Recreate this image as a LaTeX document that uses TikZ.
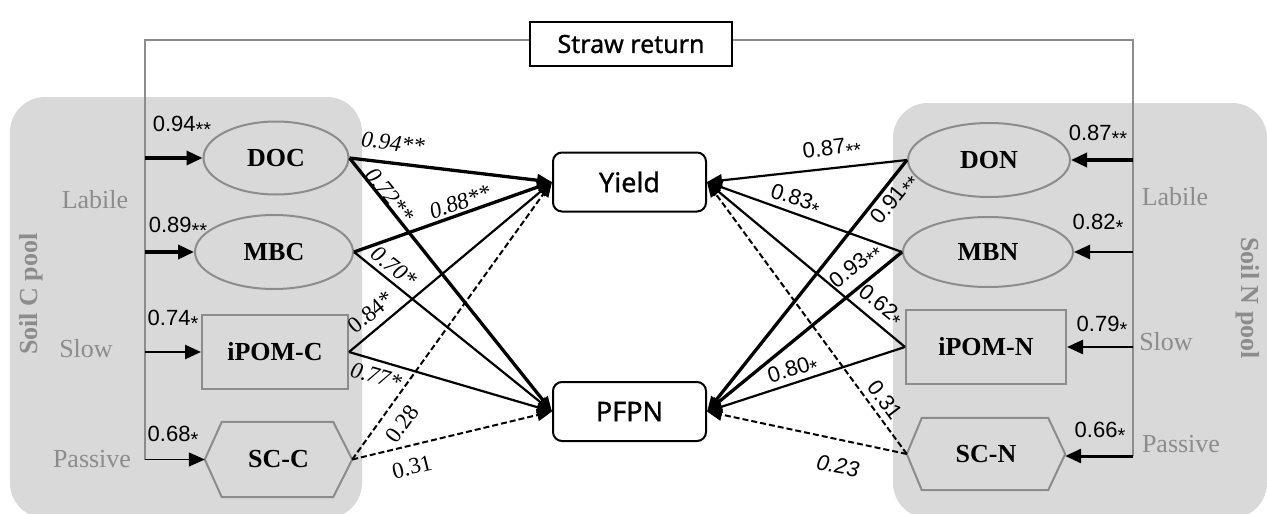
\documentclass[tikz,border=0pt]{standalone}
\usepackage{fontspec}
\setmainfont{Liberation Serif}
\newfontfamily\arialf{Liberation Sans}
\newfontfamily\yaheif[FakeBold=1.0]{Noto Sans}
\usetikzlibrary{arrows.meta,shapes.geometric}
\definecolor{poolgray}{HTML}{D9D9D9}
\definecolor{bordgray}{HTML}{8C8C8C}
\definecolor{txtgray}{HTML}{8C8C8C}
\definecolor{linegray}{HTML}{8C8C8C}
\newcommand\sst{\raisebox{-5pt}{\fontsize{20}{20}\selectfont *}}
\begin{document}
\begin{tikzpicture}[x=1pt,y=-1pt,
  pool/.style={fill=poolgray,rounded corners=35pt},
  pnode/.style={draw=bordgray,line width=2pt,fill=poolgray,inner sep=0pt,font=\fontsize{26}{28}\selectfont\bfseries},
  ell/.style={pnode,ellipse},
  rec/.style={pnode,rectangle},
  hexa/.style={rectangle,draw=none,fill=none,inner sep=0pt},
  hexline/.style={draw=bordgray,line width=2pt,fill=poolgray},
  hexlab/.style={inner sep=0pt,font=\fontsize{26}{28}\selectfont\bfseries},
  outbox/.style={draw=black,line width=2pt,rounded corners=9pt,minimum width=153pt,minimum height=59pt,fill=white,font=\yaheif\fontsize{27}{29}\selectfont},
  strawbox/.style={draw=black,line width=2pt,minimum width=202pt,minimum height=44pt,fill=white,font=\yaheif\fontsize{25}{27}\selectfont},
  tip/.style={-{Triangle[length=15pt,width=12pt]}},
  ethick/.style={tip,line width=3.3pt},
  enorm/.style={tip,line width=2.2pt},
  edash/.style={tip,line width=2pt,dash pattern=on 6pt off 3pt},
  intip/.style={-{Triangle[length=16pt,width=14pt]}},
  inthick/.style={intip,line width=3.5pt},
  innorm/.style={intip,line width=2.5pt},
  inthin/.style={intip,line width=1.5pt},
  grayline/.style={draw=linegray,line width=1.2pt},
  slab/.style={font=\arialf\fontsize{22}{24}\selectfont,inner sep=0pt},
  silab/.style={font=\arialf\fontsize{22}{24}\selectfont\itshape,inner sep=0pt},
  tlab/.style={font=\fontsize{23}{25}\selectfont\itshape,inner sep=0pt},
  ulab/.style={font=\fontsize{23}{25}\selectfont,inner sep=0pt},
  glab/.style={text=txtgray,font=\fontsize{26}{28}\selectfont,inner sep=0pt},
  poollab/.style={text=txtgray,font=\fontsize{26}{28}\selectfont\bfseries,inner sep=0pt},
]
\useasboundingbox (0,0) rectangle (1267,514);
% pools
\fill[pool] (10,97) rectangle (362,518);
\fill[pool] (893,103) rectangle (1267,518);
% pool labels
\node[poollab,rotate=90] (soilc) at (31,294) {Soil C pool};
\node[poollab,rotate=-90] (soiln) at (1248,298) {Soil N pool};
\node[glab] (labl) at (95,200) {Labile};
\node[glab] (slol) at (86,349) {Slow};
\node[glab] (pasl) at (92,459) {Passive};
\node[glab] (labr) at (1175,197) {Labile};
\node[glab] (slor) at (1166,342) {Slow};
\node[glab] (pasr) at (1181,444) {Passive};
% straw return
\node[strawbox] (straw) at (631,44) {Straw return};
\coordinate (lv) at (145,40);
\coordinate (rv) at (1133,40);
% C nodes
\node[ell,minimum width=145pt,minimum height=73pt] (doc) at (276,158) {DOC};
\node[ell,minimum width=158pt,minimum height=74pt] (mbc) at (274,252) {MBC};
\node[rec,minimum width=146pt,minimum height=74pt] (ipomc) at (275,352) {iPOM-C};
\node[hexa,minimum width=147pt,minimum height=75pt] (scc) at (278.5,459.5) {};
\draw[hexline] (scc.west) -- ([xshift=17pt]scc.north west) -- ([xshift=-19pt]scc.north east) -- (scc.east) -- ([xshift=-19pt]scc.south east) -- ([xshift=17pt]scc.south west) -- cycle;
\node[hexlab] (scclab) at (scc) {SC-C};
% N nodes
\node[ell,minimum width=162pt,minimum height=74pt] (don) at (989,160) {DON};
\node[ell,minimum width=170pt,minimum height=70pt] (mbn) at (988,252) {MBN};
\node[rec,minimum width=160pt,minimum height=74pt] (ipomn) at (986,347) {iPOM-N};
\node[hexa,minimum width=158pt,minimum height=72pt] (scn) at (986,454) {};
\draw[hexline] (scn.west) -- ([xshift=15pt]scn.north west) -- ([xshift=-17pt]scn.north east) -- (scn.east) -- ([xshift=-17pt]scn.south east) -- ([xshift=15pt]scn.south west) -- cycle;
\node[hexlab] (scnlab) at (scn) {SC-N};
% outcomes
\node[outbox] (yield) at (629.5,182) {Yield};
\node[outbox] (pfpn) at (629.5,411.5) {PFPN};
% gray straw lines
\draw[grayline] (straw.west |- lv) -- (lv) -- (lv |- scc);
\draw[grayline] (straw.east |- rv) -- (rv) -- ([yshift=-2pt]rv |- scn);
% input arrows
\draw[inthick] (lv |- doc) -- (doc.west);
\draw[inthick] (lv |- mbc) -- (mbc.west);
\draw[innorm] (lv |- ipomc) -- (ipomc.west);
\draw[inthin] (lv |- scc) -- (scc.west);
\draw[inthick] (rv |- don) -- (don.east);
\draw[innorm] (rv |- mbn) -- (mbn.east);
\draw[innorm] (rv |- ipomn) -- (ipomn.east);
\draw[line width=3pt,intip] ([yshift=-2pt]rv |- scn) -- ([yshift=-2pt]scn.east);
% input labels
\node[slab] (i1) at (182,126) {0.94\sst\sst};
\node[slab] (i2) at (178,227) {0.89\sst\sst};
\node[slab] (i3) at (173,320) {0.74\sst};
\node[slab] (i4) at (173,436) {0.68\sst};
\node[slab] (i5) at (1098,135) {0.87\sst\sst};
\node[slab] (i6) at (1098,224) {0.82\sst};
\node[slab] (i7) at (1102,326) {0.79\sst};
\node[slab] (i8) at (1100,432) {0.66\sst};
% left edges
\draw[ethick] (doc.east) -- (yield.west);
\draw[ethick] (doc.east) -- (pfpn.west);
\draw[ethick] (mbc.east) -- (yield.west);
\draw[enorm] (mbc.east) -- (pfpn.west);
\draw[enorm] (ipomc.east) -- (yield.west);
\draw[enorm] (ipomc.east) -- (pfpn.west);
\draw[edash] (scc.east) -- (yield.west);
\draw[edash] (scc.east) -- (pfpn.west);
% right edges
\draw[enorm] (don.west) -- (yield.east);
\draw[ethick] (don.west) -- (pfpn.east);
\draw[enorm] (mbn.west) -- (yield.east);
\draw[ethick] (mbn.west) -- (pfpn.east);
\draw[enorm] (ipomn.west) -- (yield.east);
\draw[enorm] (ipomn.west) -- (pfpn.east);
\draw[edash] (scn.west) -- (yield.east);
\draw[edash] (scn.west) -- (pfpn.east);
% left edge labels
\node[tlab,rotate=-7] (l1) at (393,143) {0.94**};
\node[tlab,rotate=-51] (l2) at (390,195) {0.72**};
\node[tlab,rotate=19] (l3) at (460,202) {0.88**};
\node[tlab,rotate=-38] (l4) at (394,267) {0.70*};
\node[ulab,rotate=39] (l5) at (371,312) {0.84*};
\node[tlab,rotate=-16] (l6) at (376,376) {0.77*};
\node[ulab,rotate=54] (l7) at (402,424) {0.28};
\node[ulab,rotate=14] (l8) at (412,467) {0.31};
% right edge labels
\node[slab,rotate=7] (r1) at (832,150) {0.87\sst\sst};
\node[slab,rotate=51] (r2) at (895,200) {0.91\sst\sst};
\node[slab,rotate=-18] (r3) at (795,200) {0.83\sst};
\node[slab,rotate=39] (r4) at (856,267) {0.93\sst\sst};
\node[slab,rotate=-39] (r5) at (880,306) {0.62\sst};
\node[slab,rotate=17] (r6) at (793,371) {0.80\sst};
\node[slab,rotate=-53] (r7) at (885,400) {0.31};
\node[silab,rotate=-10] (r8) at (838,466) {0.23};
\end{tikzpicture}
\end{document}
